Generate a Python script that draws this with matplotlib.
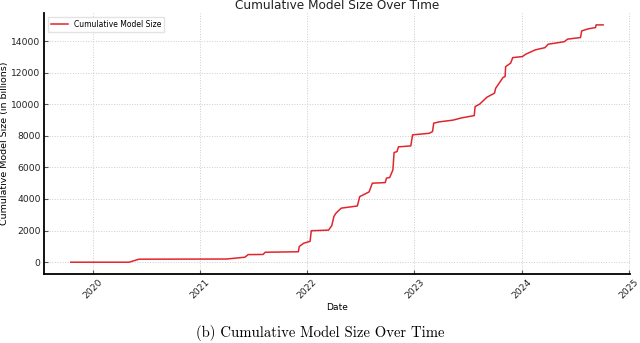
import matplotlib
matplotlib.use("Agg")
import matplotlib.pyplot as plt
import matplotlib.dates as mdates
import pandas as pd

# data (approximate)
dates = [
    "2019-10-19", "2020-05-05", "2020-06-07", "2021-04-01", "2021-06-03",
    "2021-06-14", "2021-08-04", "2021-08-11", "2021-12-02", "2021-12-05",
    "2021-12-20", "2022-01-11", "2022-01-15", "2022-03-15", "2022-03-26",
    "2022-04-02", "2022-04-09", "2022-04-27", "2022-06-21", "2022-06-29",
    "2022-07-31", "2022-08-11", "2022-09-24", "2022-09-28", "2022-10-09",
    "2022-10-20", "2022-10-24", "2022-11-03", "2022-11-08", "2022-12-20",
    "2022-12-26", "2023-02-21", "2023-03-04", "2023-03-08", "2023-03-26",
    "2023-05-12", "2023-06-10", "2023-07-24", "2023-07-27", "2023-08-11",
    "2023-09-05", "2023-10-01", "2023-10-05", "2023-10-30", "2023-11-06",
    "2023-11-08", "2023-11-25", "2023-12-02", "2024-01-04", "2024-01-15",
    "2024-02-17", "2024-03-21", "2024-04-01", "2024-04-23", "2024-05-26",
    "2024-06-06", "2024-07-20", "2024-07-24", "2024-08-15", "2024-09-09",
    "2024-09-11", "2024-10-05",
]
cum_size = [
    0, 0, 190, 200, 316,
    480, 490, 630, 660, 990,
    1200, 1320, 1990, 2030, 2320,
    2890, 3100, 3420, 3560, 4150,
    4450, 5000, 5040, 5320, 5360,
    5840, 6940, 7000, 7300, 7360,
    8060, 8160, 8270, 8800, 8880,
    8990, 9130, 9280, 9850, 10000,
    10440, 10700, 11010, 11690, 11750,
    12380, 12600, 12950, 13015, 13160,
    13440, 13580, 13800, 13860, 13960,
    14120, 14220, 14640, 14770, 14850,
    15020, 15020,
]

dates = pd.to_datetime(dates)

fig = plt.figure(figsize=(6.4, 3.43), dpi=100)
ax = fig.add_axes([0.069, 0.201, 0.915, 0.761])

ax.plot(dates, cum_size, color="#e0262d", linewidth=1.1, label="Cumulative Model Size")

ax.grid(True, linestyle=":", color="#cccccc", linewidth=0.7)
ax.spines["top"].set_visible(False)
ax.spines["right"].set_visible(False)
ax.spines["left"].set_linewidth(1.3)
ax.spines["bottom"].set_linewidth(1.3)
ax.tick_params(direction="in", labelsize=6.6, length=3, color="#555555",
               labelcolor="#222222", pad=2.5)
ax.xaxis.set_major_locator(mdates.YearLocator())
ax.xaxis.set_major_formatter(mdates.DateFormatter("%Y"))
for lbl in ax.get_xticklabels():
    lbl.set_rotation(45)
    lbl.set_ha("center")

ax.set_xlabel("Date", fontsize=6.6, labelpad=2)
ax.set_ylabel("Cumulative Model Size (in billions)", fontsize=6.8, labelpad=2)
ax.legend(loc="upper left", fontsize=5.5, handlelength=2.2, frameon=True, fancybox=False,
          edgecolor="#dddddd")

fig.text(0.527, 0.975, "Cumulative Model Size Over Time", ha="center", va="baseline",
         fontsize=8.7, color="#222222")
fig.text(0.5, 0.03, "(b) Cumulative Model Size Over Time", ha="center", va="center",
         fontsize=10.6, family="cmr10")

fig.savefig("out.png", dpi=100)
